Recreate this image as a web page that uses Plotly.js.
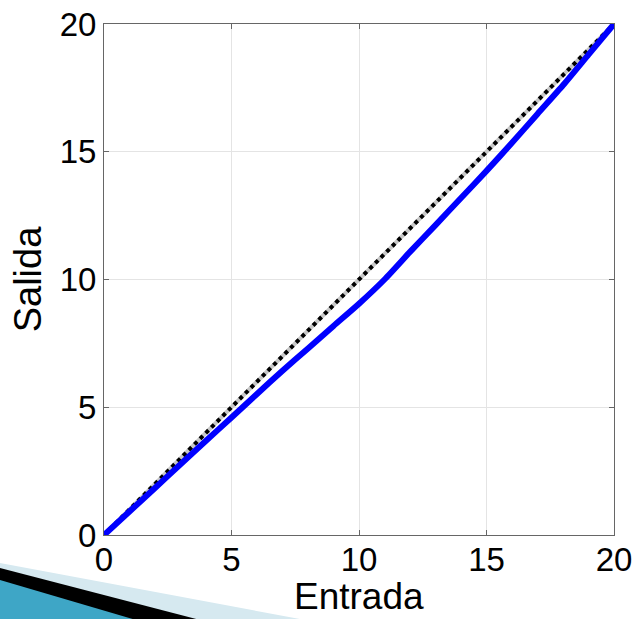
<!DOCTYPE html>
<html>
<head>
<meta charset="utf-8">
<script src="https://cdn.plot.ly/plotly-3.0.1.min.js"></script>
<style>
  html, body { margin: 0; padding: 0; background: #ffffff; }
  #chart { width: 636px; height: 619px; }
</style>
</head>
<body>
<div id="chart"></div>
<script>
// Input/output characteristic: measured response vs. ideal identity line
const entrada = [0, 1, 2, 3, 4, 5, 6, 7, 8, 9, 10, 11, 12, 13, 14, 15, 16, 17, 18, 19, 20];
const salida  = [0, 0.92, 1.84, 2.77, 3.69, 4.6, 5.52, 6.43, 7.3, 8.18, 9.05, 10.0, 11.08, 12.13, 13.19, 14.25, 15.35, 16.48, 17.6, 18.8, 20];
const ideal   = [0, 20];
const tickVals = [0, 5, 10, 15, 20];
const tickText = ['0', '5', '10', '15', '20'];

const traces = [
  { x: ideal, y: ideal, mode: 'lines', line: { color: '#c8c8c8', width: 4 }, hoverinfo: 'skip' },
  { x: ideal, y: ideal, mode: 'lines', line: { color: '#000000', width: 4, dash: 'dot' } },
  { x: entrada, y: salida, mode: 'lines', line: { color: '#0000ff', width: 6, shape: 'spline', smoothing: 0.6 } }
];

const FONT = 'Liberation Sans, Arial, sans-serif';

const axisBase = {
  range: [0, 20],
  tickvals: tickVals,
  ticktext: tickText,
  ticks: 'inside',
  ticklen: 5,
  tickwidth: 1,
  tickcolor: '#666666',
  showline: true,
  linecolor: '#666666',
  linewidth: 1,
  mirror: 'ticks',
  showgrid: true,
  gridcolor: '#e4e4e4',
  gridwidth: 1,
  zeroline: false,
  tickfont: { family: FONT, size: 33, color: '#000000' },
  fixedrange: true
};

// slide ribbon in the lower-left corner (paper coordinates)
function px(x) { return (x - 104) / 510; }
function py(y) { return (535 - y) / 511; }
function poly(pts) {
  return 'M' + pts.map(p => px(p[0]).toFixed(4) + ',' + py(p[1]).toFixed(4)).join(' L') + ' Z';
}

const shapes = [
  { type: 'path', xref: 'paper', yref: 'paper', layer: 'below',
    path: poly([[0, 563], [305, 620], [0, 620]]), fillcolor: '#d6e9f0', line: { width: 0 } },
  { type: 'path', xref: 'paper', yref: 'paper', layer: 'below',
    path: poly([[0, 568], [200, 620], [0, 620]]), fillcolor: '#000000', line: { width: 0 } },
  { type: 'path', xref: 'paper', yref: 'paper', layer: 'below',
    path: poly([[0, 580], [136, 620], [0, 620]]), fillcolor: '#3ea6c6', line: { width: 0 } }
];

const layout = {
  width: 636,
  height: 619,
  margin: { l: 104, r: 22, t: 24, b: 84 },
  paper_bgcolor: '#ffffff',
  plot_bgcolor: '#ffffff',
  showlegend: false,
  xaxis: Object.assign({}, axisBase, { ticklabelstandoff: -5 }),
  yaxis: Object.assign({}, axisBase, {
    title: { text: 'Salida', font: { family: FONT, size: 38, color: '#000000' }, standoff: 6 }
  }),
  annotations: [
    { text: 'Entrada', xref: 'paper', yref: 'paper', x: 0.5, y: py(619),
      xanchor: 'center', yanchor: 'bottom', showarrow: false,
      font: { family: FONT, size: 37, color: '#000000' } }
  ],
  shapes: shapes
};

Plotly.newPlot('chart', traces, layout, { displayModeBar: false, staticPlot: true });
</script>
</body>
</html>
